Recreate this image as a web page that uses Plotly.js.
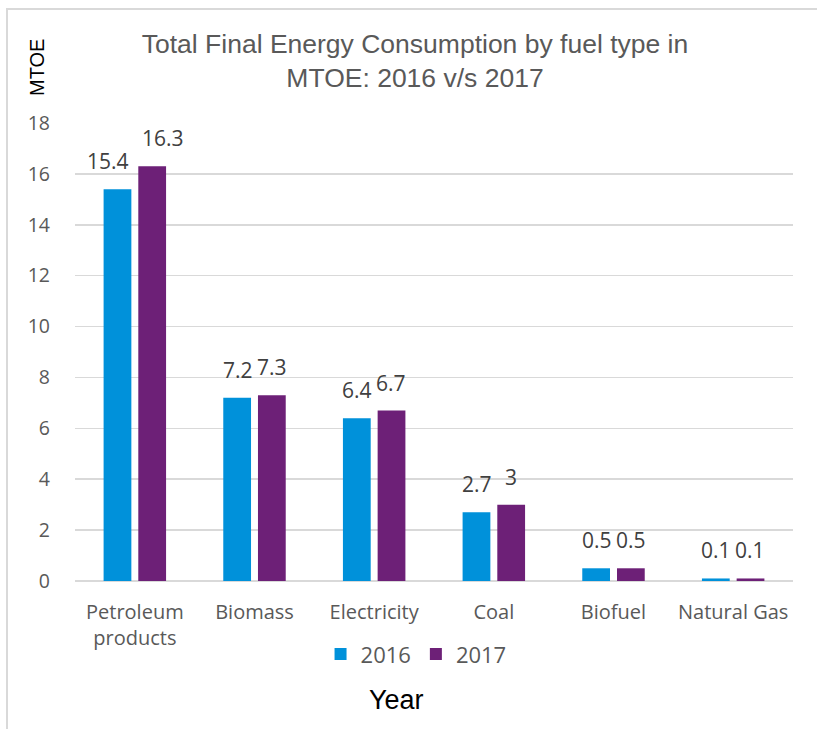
<!DOCTYPE html>
<html>
<head>
<meta charset="utf-8">
<script src="https://cdn.plot.ly/plotly-3.0.1.min.js"></script>
<style>
  html, body { margin: 0; padding: 0; background: #ffffff; }
  #wrap { position: relative; width: 817px; height: 729px; overflow: hidden; }
  #frame { position: absolute; left: 6px; top: 8px; width: 830px; height: 760px;
           border-top: 2px solid #d9d9d9; border-left: 2px solid #d9d9d9; pointer-events: none; }
  #chart { position: absolute; left: 0; top: 0; width: 817px; height: 729px; }
</style>
</head>
<body>
<div id="wrap">
  <div id="chart"></div>
  <div id="frame"></div>
</div>
<script>
// Fuel types on the category axis
const fuelTypes = ['Petroleum<br>products', 'Biomass', 'Electricity', 'Coal', 'Biofuel', 'Natural Gas'];
// Consumption in MTOE per year
const values2016 = [15.4, 7.2, 6.4, 2.7, 0.5, 0.1];
const values2017 = [16.3, 7.3, 6.7, 3, 0.5, 0.1];
const seriesNames = ['2016', '2017'];
const yTicks = [0, 2, 4, 6, 8, 10, 12, 14, 16, 18];

// Horizontal nudges (px) for value labels that sit apart from their bar
const labelNudge2016 = [-10, 0, 0, 0, 0, 0];
const labelNudge2017 = [11, 0, 0, 0, 0, 0];

const BAR_OFFSET = 17;   // px from category centre to each bar centre
const colors = ['#0091DA', '#6D2077'];
const uiFont = 'Open Sans, Noto Sans, sans-serif';
const labelFont = { family: uiFont, size: 21, color: '#404040' };

const traces = [
  { type: 'bar', name: seriesNames[0], x: fuelTypes, y: values2016,
    marker: { color: colors[0] }, hoverinfo: 'x+y' },
  { type: 'bar', name: seriesNames[1], x: fuelTypes, y: values2017,
    marker: { color: colors[1] }, hoverinfo: 'x+y' }
];

// Value labels above each bar, positioned on the data scale
const valueLabels = [];
[[values2016, -BAR_OFFSET, labelNudge2016], [values2017, BAR_OFFSET, labelNudge2017]].forEach(([vals, off, nudge]) => {
  vals.forEach((v, i) => {
    valueLabels.push({
      x: fuelTypes[i], y: v, xref: 'x', yref: 'y',
      text: String(v), showarrow: false,
      xanchor: 'center', yanchor: 'bottom',
      xshift: off + nudge[i], yshift: 12,
      font: labelFont
    });
  });
});

const layout = {
  width: 817, height: 729,
  margin: { l: 75, r: 24, t: 123, b: 148, pad: 0 },
  paper_bgcolor: '#ffffff', plot_bgcolor: '#ffffff',
  barmode: 'group', bargap: 0.42, bargroupgap: 0.2,
  title: {
    text: 'Total Final Energy Consumption by fuel type in<br>MTOE: 2016 v/s 2017',
    font: { family: 'Liberation Sans, Arial, sans-serif', size: 26.5, color: '#595959' },
    x: 415 / 817, xanchor: 'center', xref: 'container',
    y: 1 - 53 / 729, yanchor: 'middle', yref: 'container'
  },
  xaxis: {
    tickfont: { family: uiFont, size: 20, color: '#595959' },
    showgrid: false, zeroline: false, showline: false, ticks: '',
    ticklabelstandoff: 17, fixedrange: true
  },
  yaxis: {
    range: [0, 18], tickvals: yTicks, ticktext: yTicks.map(String),
    tickfont: { family: uiFont, size: 19.5, color: '#595959' },
    showgrid: true, gridcolor: '#d9d9d9', gridwidth: 1.5,
    zeroline: true, zerolinecolor: '#d9d9d9', zerolinewidth: 1.5,
    showline: false, ticks: '', ticklabelstandoff: 24, fixedrange: true
  },
  legend: {
    orientation: 'h', x: 0.475, xanchor: 'center', y: -0.16, yanchor: 'middle',
    font: { family: uiFont, size: 22, color: '#595959' },
    itemwidth: 30, tracegroupgap: 0, bgcolor: 'rgba(0,0,0,0)'
  },
  annotations: valueLabels.concat([
    {
      text: 'MTOE', xref: 'paper', yref: 'paper',
      x: (37 - 75) / 718, y: (581 - 68) / 458, xanchor: 'center', yanchor: 'middle',
      textangle: -90, showarrow: false,
      font: { family: 'Liberation Sans, Arial, sans-serif', size: 20, color: '#000000' }
    },
    {
      text: 'Year', xref: 'paper', yref: 'paper',
      x: (396 - 75) / 718, y: (581 - 700) / 458, xanchor: 'center', yanchor: 'middle',
      showarrow: false,
      font: { family: 'Liberation Sans, Arial, sans-serif', size: 27, color: '#000000' }
    }
  ]),
  showlegend: true
};

Plotly.newPlot('chart', traces, layout, { displayModeBar: false, staticPlot: true });
</script>
</body>
</html>
